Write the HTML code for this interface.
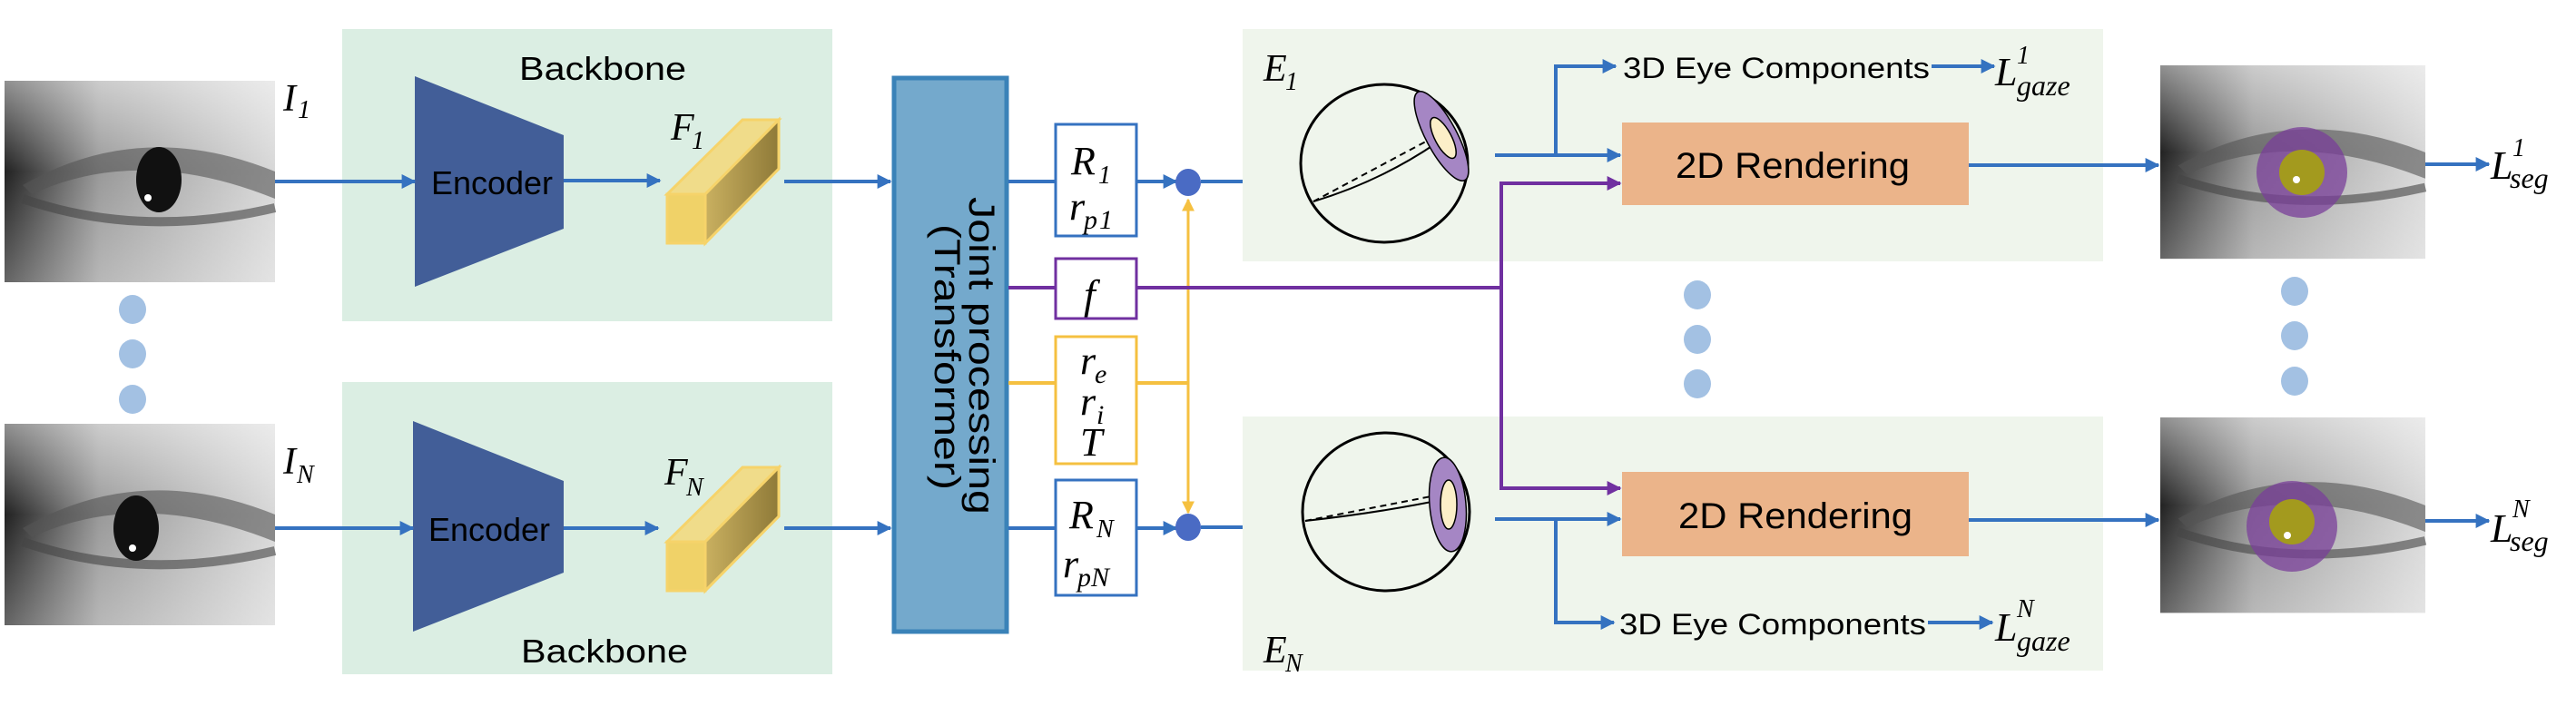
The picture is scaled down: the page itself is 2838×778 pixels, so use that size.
<!DOCTYPE html>
<html><head><meta charset="utf-8"><style>
html,body{margin:0;padding:0;background:#fff;}
svg{display:block}
.t{font-family:"Liberation Sans",sans-serif;}
.m{font-family:"Liberation Serif",serif;font-style:italic;}
</style></head><body>
<svg width="2838" height="778" viewBox="0 0 2838 778" xmlns="http://www.w3.org/2000/svg">
<defs>
<marker id="a" viewBox="0 0 10 10" markerWidth="16" markerHeight="16" refX="9" refY="5" orient="auto" markerUnits="userSpaceOnUse"><path d="M0,0 L10,5 L0,10 Z" fill="#3572c0"/></marker>
<marker id="ap" viewBox="0 0 10 10" markerWidth="16" markerHeight="16" refX="9" refY="5" orient="auto" markerUnits="userSpaceOnUse"><path d="M0,0 L10,5 L0,10 Z" fill="#7030a0"/></marker>
<marker id="ay" viewBox="0 0 10 10" markerWidth="14" markerHeight="14" refX="9" refY="5" orient="auto" markerUnits="userSpaceOnUse"><path d="M0,0 L10,5 L0,10 Z" fill="#f5c040"/></marker>
<linearGradient id="eg" x1="0" y1="0" x2="1" y2="0"><stop offset="0" stop-color="#222"/><stop offset="0.35" stop-color="#999"/><stop offset="1" stop-color="#d8d8d8"/></linearGradient>
<linearGradient id="ev" x1="0" y1="0" x2="0" y2="1"><stop offset="0" stop-color="#fff" stop-opacity="0.5"/><stop offset="0.45" stop-color="#fff" stop-opacity="0"/><stop offset="1" stop-color="#fff" stop-opacity="0.3"/></linearGradient>
<linearGradient id="cf" x1="0" y1="0" x2="1" y2="0"><stop offset="0" stop-color="#c9b060"/><stop offset="1" stop-color="#8f7a38"/></linearGradient>
<g id="eyeimg">
<rect x="0" y="0" width="298" height="222" fill="url(#eg)"/>
<rect x="0" y="0" width="298" height="222" fill="url(#ev)"/>
<path d="M20,115 Q150,40 298,100 L298,130 Q150,70 30,125 Z" fill="#555" opacity="0.6"/>
<path d="M20,130 Q150,175 298,140" stroke="#444" stroke-width="10" fill="none" opacity="0.6"/>
</g>
</defs>

<rect x="377" y="32" width="540" height="322" fill="#dbeee3"/>
<rect x="377" y="421" width="540" height="322" fill="#dbeee3"/>
<text x="572" y="88" class="t" font-size="36" textLength="184" lengthAdjust="spacingAndGlyphs">Backbone</text>
<text x="574" y="730" class="t" font-size="36" textLength="184" lengthAdjust="spacingAndGlyphs">Backbone</text>

<use href="#eyeimg" x="5" y="89"/>
<ellipse cx="175" cy="198" rx="25" ry="36" fill="#111"/><circle cx="163" cy="218" r="4" fill="#fff"/>
<use href="#eyeimg" x="5" y="467"/>
<ellipse cx="150" cy="582" rx="25" ry="36" fill="#111"/><circle cx="146" cy="604" r="4" fill="#fff"/>
<text x="312" y="122" class="m" font-size="42">I</text><text x="328" y="130" class="m" font-size="28" font-style="normal">1</text>
<text x="312" y="522" class="m" font-size="42">I</text><text x="327" y="532" class="m" font-size="28">N</text>

<ellipse cx="146" cy="341" rx="15" ry="16" fill="#a3c1e3"/>
<ellipse cx="146" cy="390" rx="15" ry="16" fill="#a3c1e3"/>
<ellipse cx="146" cy="440" rx="15" ry="16" fill="#a3c1e3"/>

<polygon points="457,84 621,149 621,252 457,316" fill="#425e98"/>
<polygon points="455,464 621,530 621,631 455,696" fill="#425e98"/>
<text x="475" y="214" class="t" font-size="36" textLength="134" lengthAdjust="spacingAndGlyphs">Encoder</text>
<text x="472" y="596" class="t" font-size="36" textLength="134" lengthAdjust="spacingAndGlyphs">Encoder</text>

<line x1="303" y1="200" x2="457" y2="200" stroke="#3572c0" stroke-width="4" marker-end="url(#a)"/>
<line x1="303" y1="582" x2="455" y2="582" stroke="#3572c0" stroke-width="4" marker-end="url(#a)"/>
<line x1="621" y1="199" x2="727" y2="199" stroke="#3572c0" stroke-width="4" marker-end="url(#a)"/>
<line x1="621" y1="582" x2="725" y2="582" stroke="#3572c0" stroke-width="4" marker-end="url(#a)"/>

<g>
<polygon points="735,214 777,214 858,132 818,132" fill="#f0dc8a" stroke="#f6d36a" stroke-width="3"/>
<polygon points="777,214 858,132 858,186 777,268" fill="url(#cf)" stroke="#f6d36a" stroke-width="3"/>
<rect x="735" y="214" width="42" height="54" fill="#f0d268" stroke="#f6d36a" stroke-width="3"/>
</g>
<g transform="translate(0,383)">
<polygon points="735,214 777,214 858,132 818,132" fill="#f0dc8a" stroke="#f6d36a" stroke-width="3"/>
<polygon points="777,214 858,132 858,186 777,268" fill="url(#cf)" stroke="#f6d36a" stroke-width="3"/>
<rect x="735" y="214" width="42" height="54" fill="#f0d268" stroke="#f6d36a" stroke-width="3"/>
</g>
<text x="739" y="154" class="m" font-size="42">F</text><text x="762" y="164" class="m" font-size="28" font-style="normal">1</text>
<text x="732" y="534" class="m" font-size="42">F</text><text x="756" y="546" class="m" font-size="28">N</text>

<line x1="864" y1="200" x2="981" y2="200" stroke="#3572c0" stroke-width="4" marker-end="url(#a)"/>
<line x1="864" y1="582" x2="981" y2="582" stroke="#3572c0" stroke-width="4" marker-end="url(#a)"/>

<rect x="985" y="86" width="124" height="610" fill="#74a9cc" stroke="#3a82b8" stroke-width="5"/>
<text transform="translate(1068,217) rotate(90)" class="t" font-size="40" textLength="350" lengthAdjust="spacingAndGlyphs">Joint processing</text>
<text transform="translate(1030,247) rotate(90)" class="t" font-size="40" textLength="293" lengthAdjust="spacingAndGlyphs">(Transformer)</text>

<line x1="1111" y1="200" x2="1162" y2="200" stroke="#3572c0" stroke-width="4"/>
<line x1="1111" y1="582" x2="1162" y2="582" stroke="#3572c0" stroke-width="4"/>
<line x1="1111" y1="317" x2="1162" y2="317" stroke="#7030a0" stroke-width="4"/>
<line x1="1111" y1="422" x2="1162" y2="422" stroke="#f5c040" stroke-width="4"/>

<rect x="1163" y="137" width="89" height="123" fill="#fff" stroke="#3572c0" stroke-width="3"/>
<rect x="1163" y="285" width="89" height="66" fill="#fff" stroke="#7030a0" stroke-width="3"/>
<rect x="1163" y="371" width="89" height="140" fill="#fff" stroke="#f5c040" stroke-width="3"/>
<rect x="1163" y="529" width="89" height="127" fill="#fff" stroke="#3572c0" stroke-width="3"/>
<text x="1180" y="192" class="m" font-size="44">R</text><text x="1210" y="202" class="m" font-size="28" font-style="normal">1</text>
<text x="1178" y="242" class="m" font-size="44">r</text><text x="1194" y="252" class="m" font-size="30">p</text><text x="1211" y="252" class="m" font-size="30" font-style="normal">1</text>
<text x="1194" y="340" class="m" font-size="46">f</text>
<text x="1190" y="412" class="m" font-size="44">r</text><text x="1206" y="422" class="m" font-size="30">e</text>
<text x="1190" y="457" class="m" font-size="44">r</text><text x="1208" y="467" class="m" font-size="30">i</text>
<text x="1190" y="502" class="m" font-size="44">T</text>
<text x="1178" y="582" class="m" font-size="44">R</text><text x="1208" y="592" class="m" font-size="28">N</text>
<text x="1171" y="636" class="m" font-size="44">r</text><text x="1187" y="646" class="m" font-size="30">pN</text>

<line x1="1252" y1="200" x2="1296" y2="200" stroke="#3572c0" stroke-width="4" marker-end="url(#a)"/>
<line x1="1252" y1="582" x2="1296" y2="582" stroke="#3572c0" stroke-width="4" marker-end="url(#a)"/>
<line x1="1252" y1="422" x2="1309" y2="422" stroke="#f5c040" stroke-width="4"/>
<line x1="1309" y1="422" x2="1309" y2="220" stroke="#f5c040" stroke-width="3" marker-end="url(#ay)"/>
<line x1="1309" y1="422" x2="1309" y2="565" stroke="#f5c040" stroke-width="3" marker-end="url(#ay)"/>
<ellipse cx="1309" cy="201" rx="14" ry="15" fill="#4a6bc4"/>
<ellipse cx="1309" cy="581" rx="14" ry="15" fill="#4a6bc4"/>
<line x1="1323" y1="200" x2="1400" y2="200" stroke="#3572c0" stroke-width="4" marker-end="url(#a)"/>
<line x1="1323" y1="581" x2="1400" y2="581" stroke="#3572c0" stroke-width="4" marker-end="url(#a)"/>

<rect x="1369" y="32" width="948" height="256" fill="#eff5ec"/>
<rect x="1369" y="459" width="948" height="280" fill="#eff5ec"/>
<text x="1392" y="89" class="m" font-size="42">E</text><text x="1416" y="99" class="m" font-size="28" font-style="normal">1</text>
<text x="1392" y="730" class="m" font-size="42">E</text><text x="1416" y="740" class="m" font-size="28">N</text>

<polyline points="1252,317 1654,317" stroke="#7030a0" stroke-width="4" fill="none"/>
<polyline points="1654,317 1654,202 1785,202" stroke="#7030a0" stroke-width="4" fill="none" marker-end="url(#ap)"/>
<polyline points="1654,317 1654,538 1785,538" stroke="#7030a0" stroke-width="4" fill="none" marker-end="url(#ap)"/>

<ellipse cx="1525" cy="180" rx="92" ry="87" fill="none" stroke="#000" stroke-width="3"/>
<path d="M1447,222 Q1520,200 1582,158" stroke="#000" stroke-width="2" fill="none"/>
<path d="M1447,222 L1582,150" stroke="#000" stroke-width="2" fill="none" stroke-dasharray="7,5"/>
<ellipse cx="1588" cy="150" rx="17" ry="55" transform="rotate(-28 1588 150)" fill="#a586c4" stroke="#000" stroke-width="1.5"/>
<ellipse cx="1590" cy="152" rx="9" ry="25" transform="rotate(-28 1590 152)" fill="#fcefc8" stroke="#000" stroke-width="1.5"/>

<ellipse cx="1527" cy="564" rx="92" ry="87" fill="none" stroke="#000" stroke-width="3"/>
<path d="M1438,574 Q1520,565 1592,550" stroke="#000" stroke-width="2" fill="none"/>
<path d="M1438,574 L1592,544" stroke="#000" stroke-width="2" fill="none" stroke-dasharray="7,5"/>
<ellipse cx="1595" cy="556" rx="20" ry="52" transform="rotate(-5 1595 556)" fill="#a586c4" stroke="#000" stroke-width="1.5"/>
<ellipse cx="1596" cy="556" rx="9" ry="27" fill="#fcefc8" stroke="#000" stroke-width="1.5"/>

<rect x="1787" y="135" width="382" height="91" fill="#ebb48a"/>
<rect x="1787" y="520" width="382" height="93" fill="#ebb48a"/>
<text x="1846" y="196" class="t" font-size="40" textLength="258" lengthAdjust="spacingAndGlyphs">2D Rendering</text>
<text x="1849" y="582" class="t" font-size="40" textLength="258" lengthAdjust="spacingAndGlyphs">2D Rendering</text>

<line x1="1647" y1="171" x2="1785" y2="171" stroke="#3572c0" stroke-width="4" marker-end="url(#a)"/>
<polyline points="1714,171 1714,73 1780,73" stroke="#3572c0" stroke-width="4" fill="none" marker-end="url(#a)"/>
<line x1="1647" y1="572" x2="1785" y2="572" stroke="#3572c0" stroke-width="4" marker-end="url(#a)"/>
<polyline points="1714,572 1714,686 1778,686" stroke="#3572c0" stroke-width="4" fill="none" marker-end="url(#a)"/>
<text x="1788" y="86" class="t" font-size="32" textLength="338" lengthAdjust="spacingAndGlyphs">3D Eye Components</text>
<text x="1784" y="699" class="t" font-size="32" textLength="338" lengthAdjust="spacingAndGlyphs">3D Eye Components</text>
<line x1="2128" y1="73" x2="2197" y2="73" stroke="#3572c0" stroke-width="4" marker-end="url(#a)"/>
<line x1="2124" y1="686" x2="2195" y2="686" stroke="#3572c0" stroke-width="4" marker-end="url(#a)"/>
<text x="2198" y="94" class="m" font-size="44">L</text><text x="2222" y="70" class="m" font-size="28" font-style="normal">1</text><text x="2222" y="105" class="m" font-size="32">gaze</text>
<text x="2198" y="706" class="m" font-size="44">L</text><text x="2222" y="680" class="m" font-size="28">N</text><text x="2222" y="717" class="m" font-size="32">gaze</text>

<line x1="2169" y1="182" x2="2378" y2="182" stroke="#3572c0" stroke-width="4" marker-end="url(#a)"/>
<line x1="2169" y1="573" x2="2378" y2="573" stroke="#3572c0" stroke-width="4" marker-end="url(#a)"/>

<g transform="translate(2380,72) scale(0.98,0.96)"><use href="#eyeimg"/></g>
<circle cx="2536" cy="190" r="50" fill="#7a3f9a" opacity="0.75"/><circle cx="2536" cy="190" r="25" fill="#a39a1e"/><circle cx="2530" cy="198" r="4" fill="#fff"/>
<g transform="translate(2380,460) scale(0.98,0.97)"><use href="#eyeimg"/></g>
<circle cx="2525" cy="580" r="50" fill="#7a3f9a" opacity="0.75"/><circle cx="2525" cy="575" r="25" fill="#a39a1e"/><circle cx="2520" cy="590" r="4" fill="#fff"/>

<ellipse cx="1870" cy="325" rx="15" ry="16" fill="#a3c1e3"/>
<ellipse cx="1870" cy="374" rx="15" ry="16" fill="#a3c1e3"/>
<ellipse cx="1870" cy="423" rx="15" ry="16" fill="#a3c1e3"/>
<ellipse cx="2528" cy="321" rx="15" ry="16" fill="#a3c1e3"/>
<ellipse cx="2528" cy="370" rx="15" ry="16" fill="#a3c1e3"/>
<ellipse cx="2528" cy="420" rx="15" ry="16" fill="#a3c1e3"/>

<line x1="2672" y1="181" x2="2742" y2="181" stroke="#3572c0" stroke-width="4" marker-end="url(#a)"/>
<line x1="2672" y1="574" x2="2742" y2="574" stroke="#3572c0" stroke-width="4" marker-end="url(#a)"/>
<text x="2744" y="197" class="m" font-size="44">L</text><text x="2768" y="172" class="m" font-size="28" font-style="normal">1</text><text x="2765" y="207" class="m" font-size="32">seg</text>
<text x="2744" y="597" class="m" font-size="44">L</text><text x="2768" y="570" class="m" font-size="28">N</text><text x="2765" y="607" class="m" font-size="32">seg</text>
</svg>
</body></html>
